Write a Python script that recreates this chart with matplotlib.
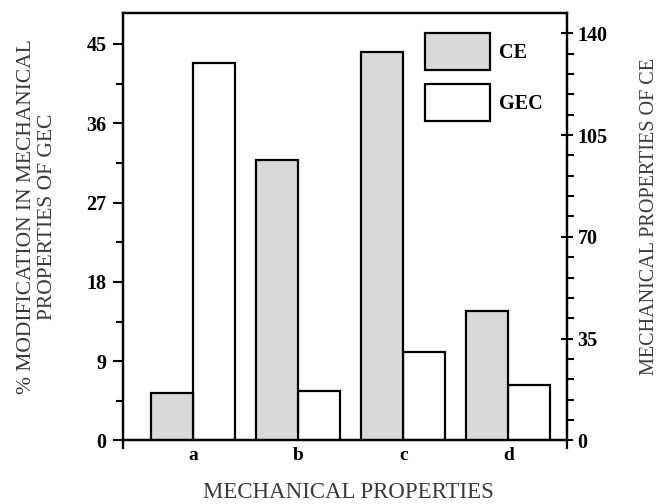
import numpy as np
import matplotlib
matplotlib.use("Agg")
import matplotlib.pyplot as plt
from matplotlib.ticker import MultipleLocator

# data
categories = ["a", "b", "c", "d"]
ce_values = [16.2, 96.4, 133.5, 44.6]     # right axis, mechanical properties of CE
gec_values = [42.8, 5.65, 10.0, 6.3]      # left axis, % modification of GEC

serif = ["Liberation Serif", "DejaVu Serif"]
grey_text = "#3a3a3a"

fig = plt.figure(figsize=(6.58, 5.04), dpi=100)
ax = fig.add_axes([0.187, 0.126, 0.675, 0.848])
ax2 = ax.twinx()

x = np.arange(len(categories))
w = 0.4
ce_bars = ax2.bar(x - w / 2, ce_values, w, color="#d9d9d9", edgecolor="black",
                  linewidth=1.6, label="CE")
gec_bars = ax.bar(x + w / 2, gec_values, w, color="white", edgecolor="black",
                  linewidth=1.6, label="GEC")

ax.set_xlim(-0.67, 3.56)
ax.set_ylim(0, 48.5)
ax2.set_ylim(0, 146.9)

ax.set_xticks(x)
ax.set_xticklabels(categories, fontfamily=serif, fontweight="bold", fontsize=14)
ax.tick_params(axis="x", length=0, pad=5)

ax.yaxis.set_major_locator(MultipleLocator(9))
ax.yaxis.set_minor_locator(MultipleLocator(4.5))
ax2.yaxis.set_major_locator(MultipleLocator(35))
ax2.yaxis.set_minor_locator(MultipleLocator(7))
ax.tick_params(axis="y", which="major", direction="out", length=7, width=1.5, pad=5)
ax.tick_params(axis="y", which="minor", direction="out", length=5, width=1.5)
ax2.tick_params(axis="y", which="major", direction="inout", length=9, width=1.5, pad=3)
ax2.tick_params(axis="y", which="minor", direction="out", length=5, width=1.5)

for t in ax.get_yticklabels() + ax2.get_yticklabels():
    t.set_fontfamily(serif)
    t.set_fontweight("bold")
    t.set_fontsize(14.5)

for a in (ax, ax2):
    for s in a.spines.values():
        s.set_linewidth(1.6)
ax.spines["left"].set_bounds(-0.9, 48.5)
ax2.spines["right"].set_bounds(-2.7, 146.9)

ax.set_xlabel("MECHANICAL PROPERTIES", fontfamily=serif, fontsize=16.5,
              color=grey_text)
ax.xaxis.set_label_coords(0.508, -0.098)
ax.set_ylabel("% MODIFICATION IN MECHANICAL\nPROPERTIES OF GEC", fontfamily=serif,
              fontsize=15.5, color=grey_text, linespacing=1.15)
ax.yaxis.set_label_coords(-0.148, 0.523)
ax2.set_ylabel("MECHANICAL PROPERTIES OF CE", fontfamily=serif, fontsize=14.5,
               color=grey_text)
ax2.yaxis.set_label_coords(1.165, 0.523)

ax2.legend(handles=[ce_bars, gec_bars], loc="upper left",
           bbox_to_anchor=(0.680, 0.953), frameon=False, borderpad=0,
           borderaxespad=0, handlelength=3.23, handleheight=2.45,
           labelspacing=0.7, handletextpad=0.45,
           prop={"family": serif, "weight": "bold", "size": 14.5})

fig.savefig("out.png", dpi=100)
